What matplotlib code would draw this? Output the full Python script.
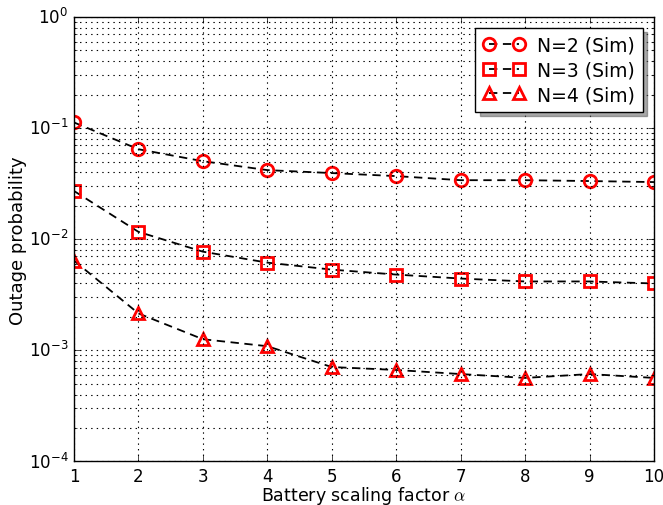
import matplotlib
matplotlib.use("Agg")
import matplotlib.pyplot as plt
import numpy as np

plt.style.use('classic')

alpha = [1, 2, 3, 4, 5, 6, 7, 8, 9, 10]
n2_sim = [0.1125, 0.0646, 0.0504, 0.0419, 0.0394, 0.0370, 0.0340, 0.0340, 0.0334, 0.0327]
n3_sim = [0.0272, 0.01166, 0.00773, 0.00616, 0.00533, 0.00481, 0.00443, 0.00417, 0.00417, 0.00400]
n4_sim = [0.00642, 0.00215, 0.00126, 0.00109, 0.000708, 0.000666, 0.000612, 0.000565, 0.000612, 0.000565]

fig = plt.figure(figsize=(6.63, 5.06), dpi=100, facecolor='white')
ax = fig.add_axes([0.1116, 0.086, 0.8748, 0.8784])

common = dict(color='black', linestyle='--', linewidth=1.3, markersize=9,
              markerfacecolor='none', markeredgecolor='red', markeredgewidth=2,
              dashes=(6, 4))
ax.semilogy(alpha, n2_sim, marker='o', label='N=2 (Sim)', **common)
ax.semilogy(alpha, n3_sim, marker='s', label='N=3 (Sim)', **common)
ax.semilogy(alpha, n4_sim, marker='^', label='N=4 (Sim)', **common)

ax.set_xlim(1, 10)
ax.set_ylim(1e-4, 1)
ax.set_xticks(range(1, 11))
ax.grid(True, which='both', linestyle=':', color='black', linewidth=0.8)
ax.tick_params(which='both', direction='in', labelsize=12)
ax.tick_params(axis='x', pad=4)
ax.set_xlabel(r'Battery scaling factor $\alpha$', fontsize=12.5, labelpad=-1)
ax.set_ylabel('Outage probability', fontsize=13, labelpad=1)
leg = ax.legend(loc='upper right', numpoints=2, fancybox=False,
                shadow={'ox': 3, 'oy': -3, 'color': '#555555'},
                fontsize=13.5, handlelength=2.2, borderaxespad=0.6,
                handletextpad=0.7, borderpad=0.4, labelspacing=0.3)
fig.savefig('out.png', dpi=100, facecolor='white')
